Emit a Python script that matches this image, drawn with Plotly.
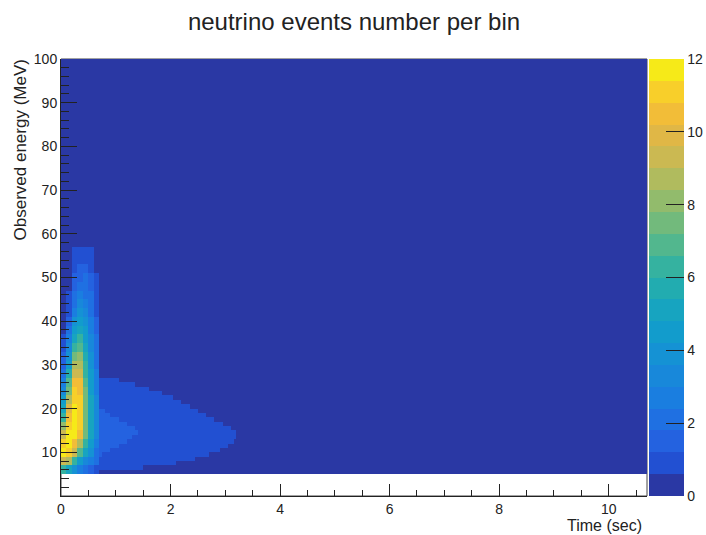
import numpy as np
import plotly.graph_objects as go

# ---------------- data ----------------
title_text = "neutrino events number per bin"
x_title = "Time (sec)"
y_title = "Observed energy (MeV)"

x_max = 10.7          # end of the time axis (s)
e_min, e_max = 5, 100 # energy range covered by the histogram (MeV)
background_value = 0.1

# burst stripe: 0.1 s columns for t < 0.7 s, 2 MeV energy bands (lower edges)
burst_t_edges = [0.0, 0.1, 0.2, 0.3, 0.4, 0.5, 0.6, 0.7]
burst_e_bands = [5, 7, 9, 11, 13, 15, 17, 19, 21, 23, 25, 27, 29, 31, 33,
                 35, 37, 39, 41, 43, 45, 47, 49, 51, 53, 55]
burst_values = [
    [6.0, 5.0, 3.6, 2.6, 2.0, 1.6, 1.2],
    [9.5, 8.5, 6.5, 4.5, 3.4, 2.6, 1.8],
    [11.6, 10.8, 9.0, 7.0, 5.2, 3.8, 2.4],
    [11.2, 11.6, 10.6, 8.8, 6.4, 4.6, 2.9],
    [9.6, 11.6, 11.8, 10.2, 7.2, 5.0, 3.1],
    [8.0, 11.2, 11.9, 10.9, 7.6, 5.2, 3.2],
    [6.6, 10.6, 11.9, 11.2, 7.7, 5.2, 3.2],
    [5.2, 9.8, 11.7, 11.2, 7.7, 5.1, 3.1],
    [4.2, 8.8, 11.3, 11.0, 7.5, 5.0, 3.0],
    [3.3, 7.8, 10.8, 10.7, 7.3, 4.8, 2.9],
    [2.6, 6.8, 10.2, 10.3, 7.0, 4.6, 2.8],
    [2.0, 5.8, 9.4, 9.6, 6.6, 4.3, 2.6],
    [1.6, 4.8, 8.4, 8.9, 6.2, 4.0, 2.4],
    [1.3, 3.9, 7.4, 8.0, 5.7, 3.7, 2.2],
    [1.0, 3.1, 6.3, 7.0, 5.2, 3.4, 2.0],
    [0.8, 2.5, 5.3, 6.0, 4.7, 3.1, 1.8],
    [0.6, 2.0, 4.4, 5.1, 4.2, 2.8, 1.6],
    [0.5, 1.6, 3.6, 4.3, 3.7, 2.5, 1.4],
    [0.4, 1.2, 2.9, 3.6, 3.2, 2.2, 1.2],
    [0.3, 0.9, 2.3, 3.0, 2.8, 2.0, 1.0],
    [0.2, 0.7, 1.9, 2.5, 2.4, 1.8, 0.9],
    [0.2, 0.5, 1.6, 2.1, 2.1, 1.6, 0.8],
    [0.1, 0.4, 1.3, 1.7, 1.8, 1.4, 0.7],
    [0.1, 0.3, 1.1, 1.4, 1.5, 1.2, 0.6],
    [0.1, 0.2, 0.9, 1.2, 1.2, 1.0, 0.5],
    [0.1, 0.1, 0.7, 0.9, 0.9, 0.8, 0.3],
]

# tongue (t >= 0.7 s): per 1 MeV energy row, time where each level ends
tongue_outer_rows = [6, 7, 8, 9, 10, 11, 12, 13, 14, 15, 16, 17, 18, 19,
                     20, 21, 22, 23, 24, 25, 26]
tongue_outer_end = [1.5, 2.1, 2.45, 2.7, 2.9, 3.05, 3.15, 3.2, 3.2, 3.1,
                    2.95, 2.8, 2.65, 2.5, 2.35, 2.2, 2.05, 1.85, 1.6, 1.35, 1.05]
tongue_outer_value = 0.9
tongue_inner_rows = [9, 10, 11, 12, 13, 14, 15, 16, 17, 18, 19]
tongue_inner_end = [0.75, 0.9, 1.05, 1.2, 1.3, 1.38, 1.35, 1.2, 1.05, 0.9, 0.78]
tongue_inner_value = 1.5

colorbar_ticks = [0, 2, 4, 6, 8, 10, 12]
y_ticks = [10, 20, 30, 40, 50, 60, 70, 80, 90, 100]
x_ticks = [0, 2, 4, 6, 8, 10]

# ---------------- build the histogram table ----------------
t_edges = list(burst_t_edges) + [round(0.7 + 0.05 * i, 4) for i in range(1, 201)]
t_edges[-1] = x_max
e_edges = list(range(e_min, e_max + 1))

t_centers = [(a + b) / 2 for a, b in zip(t_edges[:-1], t_edges[1:])]
e_rows = e_edges[:-1]

outer = dict(zip(tongue_outer_rows, tongue_outer_end))
inner = dict(zip(tongue_inner_rows, tongue_inner_end))

z = np.full((len(e_rows), len(t_centers)), background_value)
for i, e in enumerate(e_rows):
    for j, t in enumerate(t_centers):
        if t < burst_t_edges[-1]:
            band = (e - burst_e_bands[0]) // 2
            if 0 <= band < len(burst_values):
                z[i, j] = max(burst_values[band][j], background_value)
        else:
            if e in outer and t < outer[e]:
                z[i, j] = tongue_outer_value
            if e in inner and t < inner[e]:
                z[i, j] = tongue_inner_value

# ---------------- ROOT-like stepped palette (20 contour levels) ----------------
level_colors = [
    "#2a38a4", "#2250d2", "#2462e0", "#1f70e2", "#1a7ee0", "#1888da",
    "#1592d4", "#129ccc", "#17a4c0", "#22acb0", "#35b2a0", "#52b78e",
    "#72ba7c", "#92bb6c", "#b0bb5e", "#cbb952", "#e0b746", "#f2bd38",
    "#f8cf2a", "#f6ea18",
]
n = len(level_colors)
colorscale = []
for k, c in enumerate(level_colors):
    colorscale.append([k / n, c])
    colorscale.append([(k + 1) / n, c])

font_family = "Liberation Sans, Arial, Helvetica, sans-serif"
txt = "#222"

fig = go.Figure(
    go.Heatmap(
        x=t_edges,
        y=e_edges,
        z=z,
        zmin=0,
        zmax=12,
        colorscale=colorscale,
        zsmooth=False,
        hoverinfo="skip",
        colorbar=dict(
            x=1.003,
            xanchor="left",
            xpad=0,
            ypad=0,
            y=0,
            yanchor="bottom",
            len=1,
            lenmode="fraction",
            thickness=35,
            outlinewidth=0,
            tickvals=colorbar_ticks,
            ticks="inside",
            ticklen=18,
            tickcolor=txt,
            tickfont=dict(size=14, color=txt, family=font_family),
        ),
    )
)

W, H = 706, 535
ml, mr, mt, mb = 61, 59, 59, 39
pw, ph = W - ml - mr, H - mt - mb

fig.update_layout(
    width=W,
    height=H,
    margin=dict(l=ml, r=mr, t=mt, b=mb, autoexpand=False),
    paper_bgcolor="white",
    plot_bgcolor="white",
    font=dict(family=font_family, color=txt),
    title=dict(
        text=title_text,
        x=0.5,
        xref="paper",
        xanchor="center",
        y=1 - 22 / H,
        yref="container",
        yanchor="middle",
        font=dict(size=24, color=txt, family=font_family),
    ),
    xaxis=dict(
        range=[0, x_max],
        tickvals=x_ticks,
        ticks="inside",
        ticklen=12,
        tickcolor=txt,
        tickfont=dict(size=14, color=txt),
        showgrid=False,
        zeroline=False,
        showline=True,
        linecolor=txt,
        linewidth=1,
        minor=dict(dtick=0.5, ticks="inside", ticklen=6, tickcolor=txt, showgrid=False),
    ),
    yaxis=dict(
        range=[0, 100],
        tickvals=y_ticks,
        ticks="inside",
        ticklen=16,
        tickcolor=txt,
        tickfont=dict(size=14, color=txt),
        showgrid=False,
        zeroline=False,
        showline=True,
        linecolor=txt,
        linewidth=1,
        minor=dict(dtick=2, ticks="inside", ticklen=8, tickcolor=txt, showgrid=False),
    ),
    shapes=[
        dict(type="rect", xref="paper", yref="paper", x0=0, x1=1, y0=0, y1=1,
             line=dict(color="#444", width=1), layer="below"),
    ],
    annotations=[
        dict(text=x_title, xref="paper", yref="paper",
             x=(644 - ml) / pw, y=(496 - 525) / ph,
             xanchor="right", yanchor="middle", showarrow=False,
             font=dict(size=16, color=txt)),
        dict(text=y_title, xref="paper", yref="paper", textangle=-90,
             x=(20 - ml) / pw, y=(496 - 58) / ph,
             xanchor="center", yanchor="top", showarrow=False,
             font=dict(size=17, color=txt)),
    ],
)

fig.write_html("out.html")
